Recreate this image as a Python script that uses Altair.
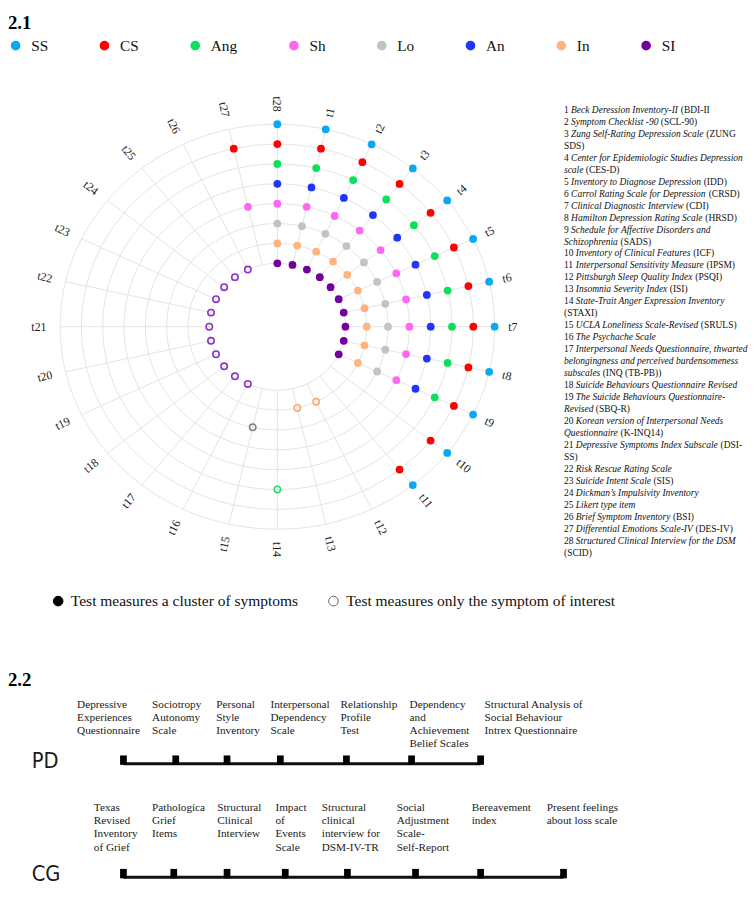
import altair as alt
import pandas as pd

# ---------------------------------------------------------------- data
symptoms = ["SS", "CS", "Ang", "Sh", "Lo", "An", "In", "SI"]
symptom_colors = ["#0aa8f0", "#ff0000", "#0be05c", "#ff66f2", "#c3c3c3", "#2133ff", "#ffb380", "#73009b"]
ring_order = ["SI", "In", "Lo", "Sh", "An", "Ang", "CS", "SS"]          # inner -> outer ring
all_symptoms = ["SS", "CS", "Ang", "An", "Sh", "Lo", "In", "SI"]
tests = [f"t{i}" for i in range(1, 29)]

# tests measuring a cluster of symptoms (filled dots)
cluster_tests = {1: all_symptoms, 2: all_symptoms, 3: all_symptoms, 4: all_symptoms,
                 5: all_symptoms, 6: all_symptoms, 7: all_symptoms, 8: all_symptoms,
                 9: all_symptoms, 10: ["SS", "CS"], 11: ["SS", "CS"], 27: ["CS", "Sh"],
                 28: all_symptoms}
# tests measuring only the symptom of interest (open dots)
single_tests = {12: "In", 13: "In", 14: "Ang", 15: "Lo", 16: "SI", 17: "SI", 18: "SI",
                19: "SI", 20: "SI", 21: "SI", 22: "SI", 23: "SI", 24: "SI", 25: "SI", 26: "SI"}
open_domain = ["In", "Ang", "Lo", "SI"]
open_colors = ["#ffa970", "#22e060", "#858585", "#8a35c4"]

kind_labels = ["Test measures a cluster of symptoms", "Test measures only the symptom of interest"]

# list of instruments (*...* = italic)
measure_lines = [
    "1 *Beck Deression Inventory-II* (BDI-II",
    "2 *Symptom Checklist -90* (SCL-90)",
    "3 *Zung Self-Rating Depression Scale* (ZUNG",
    "SDS)",
    "4 *Center for Epidemiologic Studies Depression*",
    "*scale* (CES-D)",
    "5 *Inventory to Diagnose Depression* (IDD)",
    "6 *Carrol Rating Scale for Depression* (CRSD)",
    "7 *Clinical Diagnostic Interview* (CDI)",
    "8 *Hamilton Depression Rating Scale* (HRSD)",
    "9 *Schedule for Affective Disorders and*",
    "*Schizophrenia* (SADS)",
    "10 *Inventory of Clinical Features* (ICF)",
    "11 *Interpersonal Sensitivity Measure* (IPSM)",
    "12 *Pittsburgh Sleep Quality Index* (PSQI)",
    "13 *Insomnia Severity Index* (ISI)",
    "14 *State-Trait Anger Expression Inventory*",
    "(STAXI)",
    "15 *UCLA Loneliness Scale-Revised* (SRULS)",
    "16 *The Psychache Scale*",
    "17 *Interpersonal Needs Questionnaire, thwarted*",
    "*belongingness and perceived burdensomeness*",
    "*subscales* (INQ (TB-PB))",
    "18 *Suicide Behaviours Questionnaire Revised*",
    "19 *The Suicide Behaviours Questionnaire-*",
    "*Revised* (SBQ-R)",
    "20 *Korean version of Interpersonal Needs*",
    "*Questionnaire* (K-INQ14)",
    "21 *Depressive Symptoms Index Subscale* (DSI-",
    "SS)",
    "22 *Risk Rescue Rating Scale*",
    "23 *Suicide Intent Scale* (SIS)",
    "24 *Dickman\u2019s Impulsivity Inventory*",
    "25 *Likert type item*",
    "26 *Brief Symptom Inventory* (BSI)",
    "27 *Differential Emotions Scale-IV* (DES-IV)",
    "28 *Structured Clinical Interview for the DSM*",
    "(SCID)",
]

timeline_rows = ["PD", "CG"]
pd_names = ["Depressive\nExperiences\nQuestionnaire", "Sociotropy\nAutonomy\nScale",
            "Personal\nStyle\nInventory", "Interpersonal\nDependency\nScale",
            "Relationship\nProfile\nTest", "Dependency\nand\nAchievement\nBelief Scales",
            "Structural Analysis of\nSocial Behaviour\nIntrex Questionnaire"]
pd_pos = [125, 178, 230, 284, 351, 417, 487]
pd_label_pos = [78, 154, 219, 274, 345, 415, 491]
cg_names = ["Texas\nRevised\nInventory\nof Grief", "Pathologica\nGrief\nItems",
            "Structural\nClinical\nInterview", "Impact\nof\nEvents\nScale",
            "Structural\nclinical\ninterview for\nDSM-IV-TR", "Social\nAdjustment\nScale-\nSelf-Report",
            "Bereavement\nindex", "Present feelings\nabout loss scale"]
cg_pos = [125, 176, 230, 289, 352, 421, 487, 571]
cg_label_pos = [95, 154, 220, 279, 326, 402, 478, 554]

# ---------------------------------------------------------------- layout / style
SERIF = "Liberation Serif"
NARROW = "Liberation Sans Narrow, DejaVu Sans Condensed, Arial Narrow, sans-serif"
GRID = "#e4e4e4"
CX, CY = 281, 320              # polar centre (page px)
RY = 0.932                     # vertical squash of the polar panel (as in the source figure)
R_IN, R_STEP = 69, 21.6        # innermost ring radius, ring spacing (horizontal px)
R_LABEL = 234
LIST_X, LIST_Y0, LIST_DY, LIST_FS = 571.5, 100, 12.15, 9.6
TL_Y0, TL_DY = 763, 115
TL_FS, TL_LH = 11.4, 13.3
ELLIPSE = f"M -1 0 A 1 {RY} 0 1 1 1 0 A 1 {RY} 0 1 1 -1 0 Z"

# Times metrics (per 1000 em) for laying out mixed italic / roman runs
_UP_R = [722, 667, 667, 722, 611, 556, 722, 722, 333, 389, 722, 611, 889, 722, 722, 556, 722, 667, 556, 611, 722, 722, 944, 722, 722, 611]
_LO_R = [444, 500, 444, 500, 444, 333, 500, 500, 278, 278, 500, 278, 778, 500, 500, 500, 500, 333, 389, 278, 500, 500, 722, 500, 500, 444]
_UP_I = [611, 611, 667, 722, 611, 611, 722, 722, 333, 444, 667, 556, 833, 667, 722, 611, 722, 611, 500, 556, 722, 611, 833, 611, 556, 556]
_LO_I = [500, 500, 444, 500, 444, 278, 500, 500, 278, 278, 444, 278, 722, 500, 500, 500, 500, 389, 389, 278, 500, 444, 667, 444, 444, 389]
_PUNCT = {" ": 250, "(": 333, ")": 333, ",": 250, "-": 333, ".": 250, "\u2019": 333, "'": 333}


def text_w(s, italic, fs):
    up, lo = (_UP_I, _LO_I) if italic else (_UP_R, _LO_R)
    tot = 0
    for ch in s:
        if "A" <= ch <= "Z":
            tot += up[ord(ch) - 65]
        elif "a" <= ch <= "z":
            tot += lo[ord(ch) - 97]
        elif ch.isdigit():
            tot += 500
        else:
            tot += _PUNCT.get(ch, 500)
    return tot * fs / 1000.0


list_rows = []
for i, line in enumerate(measure_lines):
    italic, buf, segs = False, "", []
    for ch in line:
        if ch == "*":
            if buf:
                segs.append((buf, italic))
            buf, italic = "", not italic
        else:
            buf += ch
    if buf:
        segs.append((buf, italic))
    off = 0.0
    for s, it in segs:
        lead = len(s) - len(s.lstrip(" "))
        list_rows.append({"line": i, "seg": s.strip(" "), "italic": it,
                          "off": off + text_w(" " * lead, it, LIST_FS)})
        off += text_w(s, it, LIST_FS)
list_df = pd.DataFrame(list_rows)

pts = []
for k, syms in cluster_tests.items():
    for s in syms:
        pts.append({"test": f"t{k}", "k": k, "symptom": s, "ring": ring_order.index(s), "kind": kind_labels[0]})
for k, s in single_tests.items():
    pts.append({"test": f"t{k}", "k": k, "symptom": s, "ring": ring_order.index(s), "kind": kind_labels[1]})
pts_df = pd.DataFrame(pts)

rings_df = pd.DataFrame({"symptom": ring_order, "ring": list(range(len(ring_order)))})
spokes_df = pd.DataFrame({"test": tests, "k": list(range(1, 29))})

tl_rows = []
for ri, (names, pos, lpos) in enumerate([(pd_names, pd_pos, pd_label_pos), (cg_names, cg_pos, cg_label_pos)]):
    for n, p, lp in zip(names, pos, lpos):
        tl_rows.append({"row": timeline_rows[ri], "ri": ri, "name": n, "pos": p, "lpos": lp})
tl_df = pd.DataFrame(tl_rows)
rowname_df = pd.DataFrame({"row": timeline_rows, "ri": [0, 1], "x": [32, 32]})
sections_df = pd.DataFrame({"title": ["2.1", "2.2"], "x": [8, 8], "y": [12, 678]})

# ---------------------------------------------------------------- scales
xs = alt.Scale(domain=[8, 756], zero=False, nice=False)
ys = alt.Scale(domain=[8, 898], zero=False, nice=False, reverse=True)


def X(f):
    return alt.X(f, type="quantitative", scale=xs, axis=None)


def Y(f):
    return alt.Y(f, type="quantitative", scale=ys, axis=None)


ang = "datum.k * 2 * PI / 28"
RAD = f"({R_IN} + {R_STEP} * datum.ring)"
PX = f"{CX} + {RAD} * sin({ang})"
PY = f"{CY} - {RY} * {RAD} * cos({ang})"

# ---------------------------------------------------------------- polar grid
rings = alt.Chart(rings_df).transform_calculate(
    px=f"{CX}", py=f"{CY}", sz=f"pow(2 * {RAD}, 2)"
).mark_point(shape=ELLIPSE, filled=False, color=GRID, strokeWidth=1, opacity=1).encode(
    x=X("px"), y=Y("py"), size=alt.Size("sz:Q", scale=None, legend=None)
)

R_OUT = R_IN + 7 * R_STEP
spokes = alt.Chart(spokes_df).transform_calculate(
    x0=f"{CX} + {R_IN} * sin({ang})", y0=f"{CY} - {RY * R_IN} * cos({ang})",
    x1=f"{CX} + {R_OUT} * sin({ang})", y1=f"{CY} - {RY * R_OUT} * cos({ang})",
).mark_rule(color=GRID, strokeWidth=1).encode(
    x=X("x0"), y=Y("y0"), x2=alt.X2("x1"), y2=alt.Y2("y1")
)

filled = alt.Chart(pts_df).transform_filter(
    alt.datum.kind == kind_labels[0]
).transform_calculate(px=PX, py=PY).mark_circle(size=62, opacity=1).encode(
    x=X("px"), y=Y("py"),
    color=alt.Color("symptom:N", scale=alt.Scale(domain=symptoms, range=symptom_colors),
                    legend=alt.Legend(orient="none", legendX=0, legendY=19, direction="horizontal",
                                      columns=8, title=None, symbolType="circle", symbolSize=95,
                                      symbolStrokeWidth=0, labelFont=SERIF, labelFontSize=15.5,
                                      labelColor="#111", labelOffset=8, columnPadding=49)),
    tooltip=["test", "symptom"],
)

opened = alt.Chart(pts_df).transform_filter(
    alt.datum.kind == kind_labels[1]
).transform_calculate(px=PX, py=PY).mark_point(
    shape="circle", filled=False, size=42, strokeWidth=1.6, opacity=1
).encode(
    x=X("px"), y=Y("py"),
    color=alt.Color("symptom:N", scale=alt.Scale(domain=open_domain, range=open_colors), legend=None),
    tooltip=["test", "symptom"],
)

lab_calc = dict(
    lx=f"{CX} + {R_LABEL} * sin({ang})",
    ly=f"{CY} - {RY * R_LABEL} * cos({ang})",
    rot=f"datum.k <= 14 ? (datum.k * 360 / 28 + 270) % 360 : (datum.k * 360 / 28 + 90) % 360",
)
labels_r = alt.Chart(spokes_df).transform_filter("datum.k <= 14").transform_calculate(**lab_calc).mark_text(
    align="left", baseline="middle", font=SERIF, fontSize=12, color="#222"
).encode(x=X("lx"), y=Y("ly"), text="test:N", angle=alt.Angle("rot:Q", scale=None))
labels_l = alt.Chart(spokes_df).transform_filter("datum.k > 14").transform_calculate(**lab_calc).mark_text(
    align="right", baseline="middle", font=SERIF, fontSize=12, color="#222"
).encode(x=X("lx"), y=Y("ly"), text="test:N", angle=alt.Angle("rot:Q", scale=None))

# legend for filled / open
kind_leg = alt.Legend(orient="none", legendX=43, legendY=582, direction="horizontal", columns=2,
                      title=None, symbolType="circle", symbolSize=95, symbolStrokeWidth=1,
                      labelFont=SERIF, labelFontSize=15.7, labelColor="#111", labelOffset=5,
                      columnPadding=28, labelLimit=400)
kind_layer = alt.Chart(alt.Data(values=[])).mark_point(shape="circle", opacity=1).encode(
    fill=alt.Fill("kind:N", scale=alt.Scale(domain=kind_labels, range=["#000000", "#ffffff"]), legend=kind_leg),
    stroke=alt.Stroke("kind:N", scale=alt.Scale(domain=kind_labels, range=["#000000", "#666666"]), legend=kind_leg),
)

# ---------------------------------------------------------------- instrument list
list_calc = dict(px=f"{LIST_X} + datum.off", py=f"{LIST_Y0} + {LIST_DY} * datum.line")
list_roman = alt.Chart(list_df).transform_filter("!datum.italic").transform_calculate(**list_calc).mark_text(
    align="left", baseline="middle", font=SERIF, fontSize=LIST_FS, color="#111"
).encode(x=X("px"), y=Y("py"), text="seg:N")
list_ital = alt.Chart(list_df).transform_filter("datum.italic").transform_calculate(**list_calc).mark_text(
    align="left", baseline="middle", font=SERIF, fontSize=LIST_FS, fontStyle="italic", color="#111"
).encode(x=X("px"), y=Y("py"), text="seg:N")

# ---------------------------------------------------------------- section titles
sections = alt.Chart(sections_df).mark_text(
    align="left", baseline="middle", font=SERIF, fontSize=19, fontWeight="bold", color="#000"
).encode(x=X("x"), y=Y("y"), text="title:N")

# ---------------------------------------------------------------- timelines
tl_line = alt.Chart(tl_df).transform_aggregate(
    x0="min(pos)", x1="max(pos)", groupby=["row", "ri"]
).transform_calculate(ly=f"{TL_Y0} + {TL_DY} * datum.ri").mark_rule(
    color="#111", strokeWidth=3
).encode(x=X("x0"), x2=alt.X2("x1"), y=Y("ly"))

tl_ticks = alt.Chart(tl_df).transform_calculate(
    xa="datum.pos - 3.4", xb="datum.pos + 3.4",
    ya=f"{TL_Y0} + {TL_DY} * datum.ri - 8.5", yb=f"{TL_Y0} + {TL_DY} * datum.ri + 1"
).mark_rect(color="#000", opacity=1).encode(
    x=X("xa"), x2=alt.X2("xb"), y=Y("ya"), y2=alt.Y2("yb")
)

tl_labels = alt.Chart(tl_df).transform_calculate(
    ly=f"{TL_Y0} + {TL_DY} * datum.ri - (datum.ri == 0 ? 66 : 76)"
).mark_text(
    align="left", baseline="top", font=SERIF, fontSize=TL_FS, lineHeight=TL_LH, lineBreak="\n", color="#222"
).encode(x=X("lpos"), y=Y("ly"), text="name:N")

tl_names = alt.Chart(rowname_df).transform_calculate(
    ly=f"{TL_Y0} + {TL_DY} * datum.ri - 3"
).mark_text(align="left", baseline="middle", font=NARROW, fontSize=22, color="#1a1a1a").encode(
    x=X("x"), y=Y("ly"), text="row:N"
)

chart = alt.layer(
    rings, spokes, filled, opened, labels_r, labels_l, kind_layer,
    list_roman, list_ital, sections, tl_line, tl_ticks, tl_labels, tl_names
).resolve_scale(color="independent").properties(
    width=748, height=890, padding=0
).configure_view(stroke=None)

chart.save("out.html", embed_options={"renderer": "svg", "actions": False})
